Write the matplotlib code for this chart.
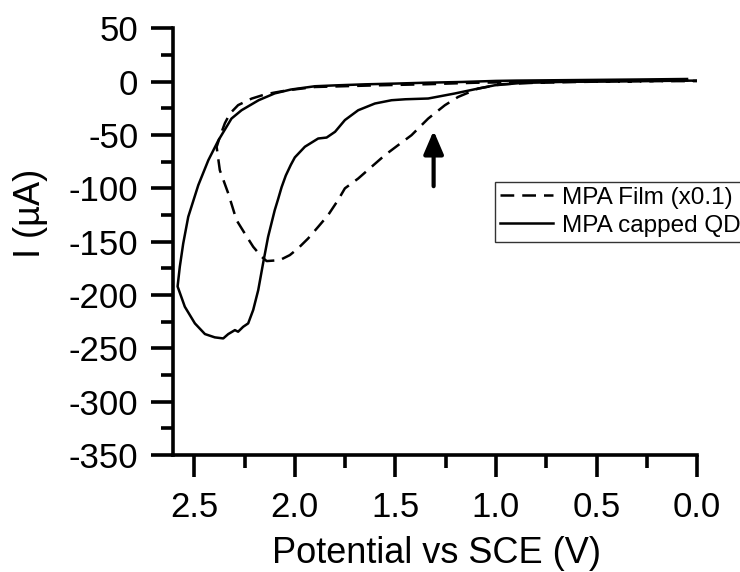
import matplotlib
matplotlib.use("Agg")
import matplotlib.pyplot as plt
from matplotlib.ticker import MultipleLocator

plt.rcParams['font.family'] = ['Liberation Sans', 'DejaVu Sans']
plt.rcParams['axes.unicode_minus'] = False

# MPA capped QD: forward scan (upper branch) then reverse scan
qd_v = [0.05, 0.3, 0.6, 0.9, 1.0, 1.17, 1.35, 1.5, 1.65, 1.8, 1.9, 2.02, 2.10,
        2.18, 2.265, 2.315, 2.38, 2.43, 2.48, 2.53, 2.555, 2.572, 2.583,
        2.547, 2.497, 2.447, 2.398, 2.356, 2.331, 2.298, 2.282, 2.257, 2.232,
        2.207, 2.182, 2.158, 2.133, 2.10, 2.083, 2.066, 2.045, 2.02, 2.0, 1.95, 1.884,
        1.842, 1.80, 1.751, 1.685, 1.602, 1.519, 1.45, 1.337, 1.205, 1.089,
        1.006, 0.873, 0.7, 0.4, 0.1, 0.05]
qd_i = [2.5, 2, 1.5, 1, 0.7, -0.3, -1, -1.8, -2.5, -3.5, -4.3, -7.4, -11,
        -17.4, -26.8, -34.6, -55, -73.6, -97, -126.7, -151.7, -173.6, -192,
        -211, -226.6, -236.6, -239.7, -240.7, -236.6, -232.9, -234.4, -229.8, -226.6,
        -214, -195.4, -170.4, -145.5, -120.5, -110, -99, -88, -78, -71, -61, -53.3,
        -52.4, -47, -36, -26.8, -20.5, -17.4, -16.5, -15.8, -11.1, -6.5,
        -3.4, -1.2, -0.3, 0.5, 1, 1]

# MPA film (x0.1)
film_v = [0.0, 0.3, 0.6, 0.9, 1.1, 1.34, 1.6, 1.9, 2.033, 2.1, 2.149, 2.215,
          2.282, 2.323, 2.348, 2.373, 2.386,
          2.389, 2.373, 2.331, 2.29, 2.249, 2.207, 2.165, 2.14, 2.075, 2.025,
          1.984, 1.934, 1.884, 1.835, 1.785, 1.751, 1.685, 1.619, 1.553, 1.487,
          1.42, 1.337, 1.254, 1.188, 1.089, 0.973, 0.8, 0.5, 0.2, 0.0]
film_i = [1, 0.5, 0, -0.5, -1, -2.4, -3.5, -5, -8, -10.2, -12, -15.9,
          -22, -30, -39, -51.8, -59.6,
          -61, -83, -104.8, -129.8, -142.3, -154.8, -164.2, -168.2, -167.3, -162.6,
          -156.3, -147, -136.1, -125.2, -111, -100, -90.8, -79.9, -69, -59.6,
          -50.2, -34.6, -22.1, -14.3, -6.5, -2.4, -1, 0, 0.5, 0.5]

fig = plt.figure(figsize=(7.4, 5.72), dpi=100)
ax = fig.add_axes([0.234, 0.2045, 0.708, 0.746])

ax.plot(film_v, film_i, color="black", lw=1.8, dashes=(5.5, 3.2), label="MPA Film (x0.1)")
ax.plot(qd_v, qd_i, color="black", lw=1.8, label="MPA capped QD")

# arrow marking the onset
ax.annotate("", xy=(1.31, -46), xytext=(1.31, -98),
            arrowprops=dict(arrowstyle="-|>,head_length=0.7,head_width=0.3",
                            lw=3, color="black", mutation_scale=20,
                            shrinkA=0, shrinkB=0))

ax.set_xlim(2.605, 0.0)
ax.set_ylim(-350, 50)
ax.xaxis.set_major_locator(MultipleLocator(0.5))
ax.xaxis.set_minor_locator(MultipleLocator(0.25))
ax.yaxis.set_major_locator(MultipleLocator(50))
ax.yaxis.set_minor_locator(MultipleLocator(25))

for s in ["top", "right"]:
    ax.spines[s].set_visible(False)
for s in ["left", "bottom"]:
    ax.spines[s].set_linewidth(2.6)

ax.tick_params(which="major", direction="out", length=16, width=2.6, labelsize=25)
ax.tick_params(axis="x", which="major", pad=10)
ax.tick_params(axis="y", which="major", pad=9)
ax.tick_params(which="minor", direction="out", length=9, width=2.6)

ax.set_xlabel("Potential vs SCE (V)", fontsize=26)
ax.set_ylabel("I (\u00b5A)", fontsize=26)
ax.xaxis.set_label_coords(0.503, -0.19)
ax.yaxis.set_label_coords(-0.239, 0.567)

leg = ax.legend(loc="upper left", bbox_to_anchor=(0.669, 0.682),
                bbox_transform=fig.transFigure, fontsize=17.5, frameon=True,
                fancybox=False, edgecolor="black", handlelength=2.2,
                handletextpad=0.35, borderpad=0.2, labelspacing=0.25,
                borderaxespad=0)
leg.get_frame().set_linewidth(1.0)

fig.savefig("out.png", dpi=100)
